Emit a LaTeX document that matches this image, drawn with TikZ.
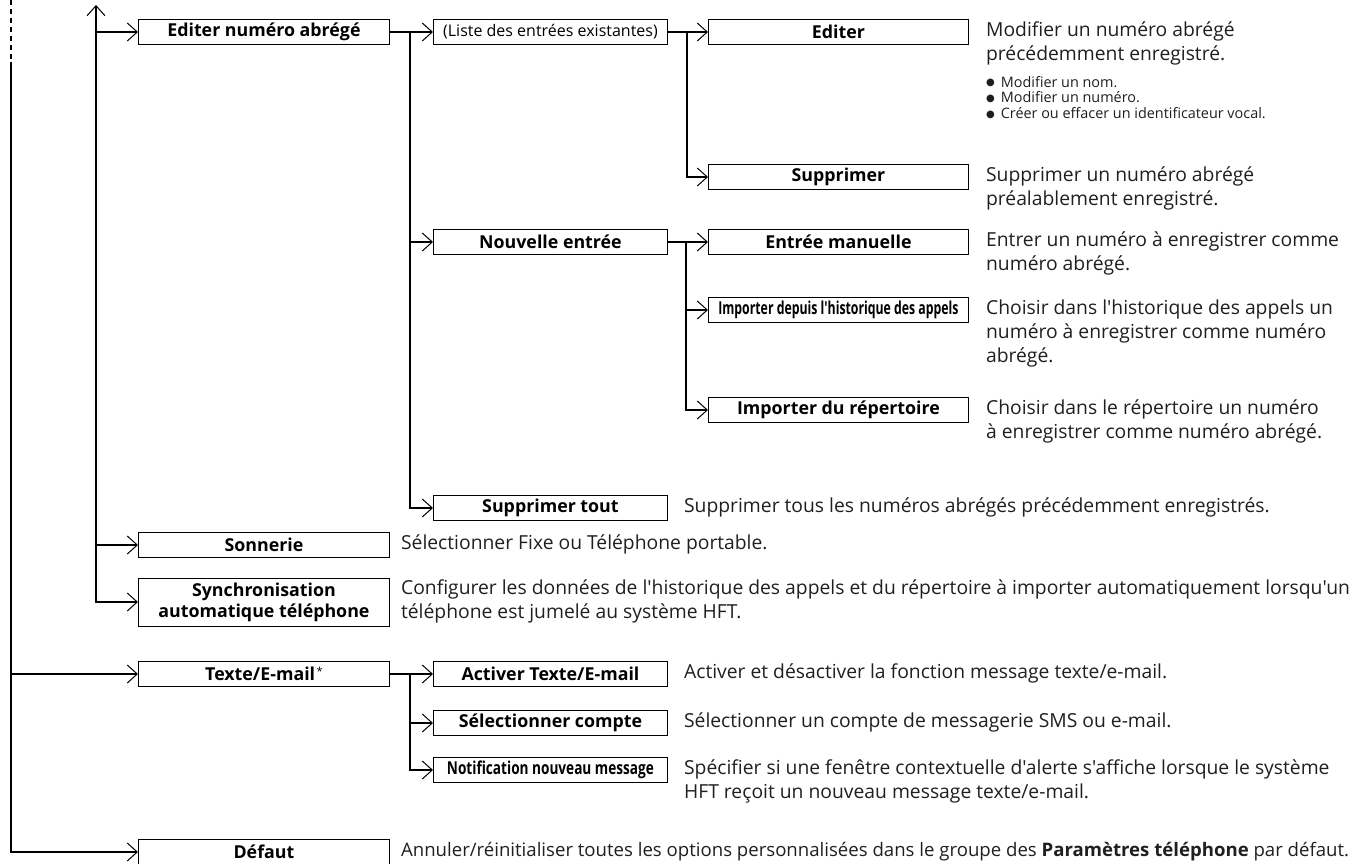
\documentclass[tikz,border=0pt]{standalone}
\usepackage{graphicx}
\usepackage{fontspec}
\setmainfont{Open Sans}[Ligatures=TeXOff]
\newfontfamily\symfont{DejaVu Sans}
\usetikzlibrary{arrows.meta,calc}
\newcommand{\dlines}[1]{\begin{tabular}[t]{@{}l@{}}#1\end{tabular}}
\newcommand{\bulmark}{\raisebox{1.2pt}{\symfont\fontsize{10}{10}\selectfont ●}\hspace{6pt}}
\begin{document}
\begin{tikzpicture}[x=1pt,y=-1pt,
  box/.style={draw, line width=0.9pt, inner sep=0pt, minimum height=25pt, anchor=west,
              font=\fontsize{17.8}{21}\selectfont\bfseries, align=center},
  wa/.style={minimum width=251pt},
  wb/.style={minimum width=234pt},
  wc/.style={minimum width=260pt},
  conn/.style={line width=1.6pt, -{Straight Barb[length=10pt,width=18pt,line width=1pt]}},
  trunkup/.style={line width=1.6pt, {Straight Barb[length=10pt,width=18pt,line width=1pt]}-{Straight Barb[length=10pt,width=18pt,line width=1pt]}},
  dashline/.style={line width=1.6pt, dash pattern=on 5pt off 4pt},
  desc/.style={anchor=base west, inner sep=0pt, font=\fontsize{19.3}{24}\selectfont, text=black!88},
  bul/.style={anchor=base west, inner sep=0pt, font=\fontsize{14.4}{15.5}\selectfont, text=black!88}
]
\useasboundingbox (0,0) rectangle (1365,864);

% boxes
\node[box,wa] (enab) at (138,32) {Editer numéro abrégé};
\node[box,wb,font=\fontsize{16}{20}\selectfont] (liste) at (433,32) {(Liste des entrées existantes)};
\node[box,wc] (editer) at (708,32) {Editer};
\node[box,wc] (suppr) at (708,177) {Supprimer};
\node[box,wb] (nouv) at (433,242) {Nouvelle entrée};
\node[box,wc] (manuel) at (708,242) {Entrée manuelle};
\node[box,wc] (imphist) at (708,310) {\scalebox{0.69}[1]{Importer depuis l'historique des appels}};
\node[box,wc] (imprep) at (708,410) {Importer du répertoire};
\node[box,wb] (supptout) at (433,508) {Supprimer tout};
\node[box,wa] (sonn) at (138,545) {Sonnerie};
\node[box,wa,minimum height=48pt] (sync) at (138,602) {Synchronisation\\automatique téléphone};
\node[box,wa] (texte) at (138,674) {Texte/E-mail\hspace{1.5pt}\raisebox{5pt}{\fontsize{11}{11}\selectfont\mdseries *}};
\node[box,wb] (activer) at (433,674) {Activer Texte/E-mail};
\node[box,wb] (selcpt) at (433,723) {Sélectionner compte};
\node[box,wb] (notif) at (433,770) {\scalebox{0.765}[1]{Notification nouveau message}};
\node[box,wa] (defaut) at (138,852) {Défaut};

% junction coordinates
\coordinate (t1top) at (11,0);
\coordinate (t1mid) at (11,62);
\coordinate (t2top) at (96,5);
\coordinate (j1) at ($(enab.east)+(20,0)$);
\coordinate (j2) at ($(liste.east)+(19,0)$);
\coordinate (j3) at ($(nouv.east)+(18,0)$);
\coordinate (j4) at ($(texte.east)+(20,0)$);

% trunk 1
\draw[dashline] (t1top) -- (t1mid);
\draw[conn] (t1mid) |- (defaut.west);
\draw[conn] (t1mid |- texte.west) -- (texte.west);

% trunk 2
\draw[trunkup] (t2top) |- (sync.west);
\draw[conn] (t2top |- enab.west) -- (enab.west);
\draw[conn] (t2top |- sonn.west) -- (sonn.west);

% Editer numero abrege branch
\draw[conn] (enab.east) -- (liste.west);
\draw[conn] (j1) |- (supptout.west);
\draw[conn] (j1 |- nouv.west) -- (nouv.west);
\draw[conn] (liste.east) -- (editer.west);
\draw[conn] (j2) |- (suppr.west);
\draw[conn] (nouv.east) -- (manuel.west);
\draw[conn] (j3) |- (imprep.west);
\draw[conn] (j3 |- imphist.west) -- (imphist.west);

% Texte branch
\draw[conn] (texte.east) -- (activer.west);
\draw[conn] (j4) |- (notif.west);
\draw[conn] (j4 |- selcpt.west) -- (selcpt.west);

% descriptions
\node[desc] (d-editer) at ($(editer.north east)+(17,17)$) {\dlines{Modifier un numéro abrégé\\précédemment enregistré.}};
\node[bul] (d-bul) at ($(editer.north east)+(17,68)$) {\dlines{\bulmark Modifier un nom.\\ \bulmark Modifier un numéro.\\ \bulmark Créer ou effacer un identificateur vocal.}};
\node[desc] (d-suppr) at ($(suppr.north east)+(17,17)$) {\dlines{Supprimer un numéro abrégé\\préalablement enregistré.}};
\node[desc] (d-manuel) at ($(manuel.north east)+(17,17)$) {\dlines{Entrer un numéro à enregistrer comme\\numéro abrégé.}};
\node[desc] (d-imphist) at ($(imphist.north east)+(17,17)$) {\dlines{Choisir dans l'historique des appels un\\numéro à enregistrer comme numéro\\abrégé.}};
\node[desc] (d-imprep) at ($(imprep.north east)+(17,17)$) {\dlines{Choisir dans le répertoire un numéro\\à enregistrer comme numéro abrégé.}};
\node[desc] (d-supptout) at ($(supptout.north east)+(16,17)$) {Supprimer tous les numéros abrégés précédemment enregistrés.};
\node[desc] (d-sonn) at ($(sonn.north east)+(11,17)$) {Sélectionner Fixe ou Téléphone portable.};
\node[desc] (d-sync) at ($(sync.north east)+(11,17)$) {\dlines{Configurer les données de l'historique des appels et du répertoire à importer automatiquement lorsqu'un\\téléphone est jumelé au système HFT.}};
\node[desc] (d-activer) at ($(activer.north east)+(16,17)$) {Activer et désactiver la fonction message texte/e-mail.};
\node[desc] (d-selcpt) at ($(selcpt.north east)+(16,17)$) {Sélectionner un compte de messagerie SMS ou e-mail.};
\node[desc] (d-notif) at ($(notif.north east)+(16,17)$) {\dlines{Spécifier si une fenêtre contextuelle d'alerte s'affiche lorsque le système\\HFT reçoit un nouveau message texte/e-mail.}};
\node[desc,font=\fontsize{18.6}{24}\selectfont] (d-defaut) at ($(defaut.north east)+(11,17)$) {Annuler/réinitialiser toutes les options personnalisées dans le groupe des \textbf{Paramètres téléphone} par défaut.};
\end{tikzpicture}
\end{document}
